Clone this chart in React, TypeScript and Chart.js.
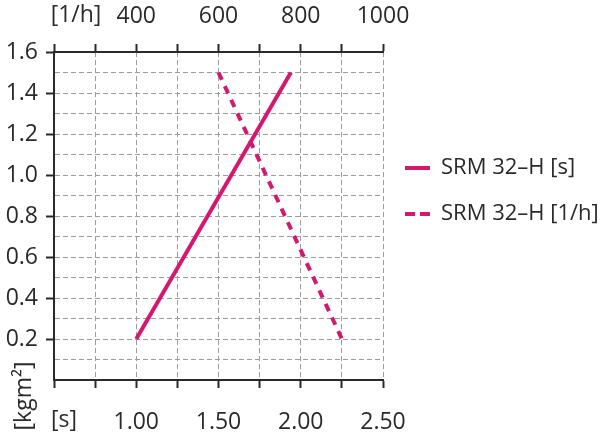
import React, { useEffect, useRef } from "react";
import { Chart, registerables } from "chart.js";

Chart.register(...registerables);

const FONT = "'Open Sans', sans-serif";
const FONT_SIZE = 23;
const TEXT_COLOR = "#2a2a2a";
const AXIS_COLOR = "#2a2a2a";
const GRID_COLOR = "#9c9c9c";
const LINE_COLOR = "#d5186f";

// Series
const seriesLabels = ["SRM 32–H [s]", "SRM 32–H [1/h]"];
const inertiaS = [0.2, 1.5];
const timeS = [1.0, 1.94];
const inertiaH = [1.5, 0.2];
const freqH = [600, 900];

// Axes
const sMin = 0.5;
const sMax = 2.5;
const sStep = 0.25;
const sTickLabels = [1.0, 1.5, 2.0, 2.5];
const hMin = 200;
const hMax = 1000;
const hStep = 100;
const hTickLabels = [400, 600, 800, 1000];
const yMin = 0;
const yMax = 1.6;
const yStep = 0.1;
const yTickLabels = [0.2, 0.4, 0.6, 0.8, 1.0, 1.2, 1.4, 1.6];

const unitTop = "[1/h]";
const unitBottom = "[s]";
const unitLeft = "[kgm²]";

const near = (v: number, arr: number[]) => arr.some((a) => Math.abs(a - v) < 1e-6);

const overlay = {
  id: "overlay",
  afterDraw(chart: any) {
    const ctx = chart.ctx as CanvasRenderingContext2D;
    ctx.save();
    ctx.fillStyle = TEXT_COLOR;
    ctx.font = `${FONT_SIZE}px ${FONT}`;
    ctx.textBaseline = "middle";
    ctx.textAlign = "center";
    ctx.fillText(unitTop, 76, 15);
    ctx.fillText(unitBottom, 64, 420);
    ctx.save();
    ctx.translate(31, 396);
    ctx.rotate(-Math.PI / 2);
    ctx.textBaseline = "alphabetic";
    ctx.fillText(unitLeft, 0, 0);
    ctx.restore();

    // legend
    const ys = [168, 214];
    ctx.font = `22px ${FONT}`;
    chart.data.datasets.forEach((ds: any, i: number) => {
      const y = ys[i];
      ctx.save();
      ctx.strokeStyle = ds.borderColor;
      ctx.lineWidth = 4;
      ctx.setLineDash(i === 0 ? [] : [10, 5]);
      ctx.beginPath();
      ctx.moveTo(405, y);
      ctx.lineTo(430, y);
      ctx.stroke();
      ctx.restore();
      ctx.textAlign = "left";
      ctx.fillText(ds.label, 441, y);
    });
    ctx.restore();
  },
};

export default function App() {
  const ref = useRef<HTMLCanvasElement>(null);
  useEffect(() => {
    if (!ref.current) return;
    const font = { family: FONT, size: FONT_SIZE };
    const chart = new Chart(ref.current, {
      type: "line",
      data: {
        datasets: [
          {
            label: seriesLabels[0],
            data: timeS.map((x, i) => ({ x, y: inertiaS[i] })),
            xAxisID: "x",
            yAxisID: "y",
            borderColor: LINE_COLOR,
            borderWidth: 4,
            pointRadius: 0,
            borderCapStyle: "butt",
          },
          {
            label: seriesLabels[1],
            data: freqH.map((x, i) => ({ x, y: inertiaH[i] })),
            xAxisID: "x2",
            yAxisID: "y",
            borderColor: LINE_COLOR,
            borderWidth: 4,
            borderDash: [8, 7],
            pointRadius: 0,
            borderCapStyle: "butt",
          },
        ],
      },
      options: {
        responsive: false,
        animation: false,
        layout: { padding: { left: 0, top: 0, right: 217, bottom: 0 } },
        plugins: { legend: { display: false }, tooltip: { enabled: false } },
        scales: {
          x: {
            type: "linear",
            position: "bottom",
            min: sMin,
            max: sMax,
            afterFit: (s: any) => {
              s.height = 56;
            },
            ticks: {
              stepSize: sStep,
              autoSkip: false,
              maxRotation: 0,
              padding: 21,
              color: TEXT_COLOR,
              font,
              callback: (v: any) => (near(Number(v), sTickLabels) ? Number(v).toFixed(2) : ""),
            },
            grid: {
              color: GRID_COLOR,
              lineWidth: 1,
              tickColor: AXIS_COLOR,
              tickWidth: 2,
              tickLength: 8,
              tickBorderDash: [],
            },
            border: { display: true, color: AXIS_COLOR, width: 2, dash: [5, 3] },
          },
          x2: {
            type: "linear",
            position: "top",
            min: hMin,
            max: hMax,
            afterFit: (s: any) => {
              s.height = 52;
            },
            ticks: {
              stepSize: hStep,
              autoSkip: false,
              maxRotation: 0,
              padding: 14,
              color: TEXT_COLOR,
              font,
              callback: (v: any) => (near(Number(v), hTickLabels) ? String(v) : ""),
            },
            grid: {
              drawOnChartArea: false,
              color: GRID_COLOR,
              tickColor: AXIS_COLOR,
              tickWidth: 2,
              tickLength: 8,
              tickBorderDash: [],
            },
            border: { display: true, color: AXIS_COLOR, width: 2 },
          },
          y: {
            type: "linear",
            position: "left",
            min: yMin,
            max: yMax,
            afterFit: (s: any) => {
              s.width = 54;
            },
            ticks: {
              stepSize: yStep,
              autoSkip: false,
              padding: 8,
              color: TEXT_COLOR,
              font,
              callback: (v: any) => (near(Number(v), yTickLabels) ? Number(v).toFixed(1) : ""),
            },
            grid: {
              color: GRID_COLOR,
              lineWidth: 1,
              tickColor: (c: any) =>
                c.tick && near(c.tick.value, yTickLabels) ? AXIS_COLOR : "rgba(0,0,0,0)",
              tickWidth: 2,
              tickLength: 8,
              tickBorderDash: [],
            },
            border: { display: true, color: AXIS_COLOR, width: 2, dash: [5, 3] },
          },
        },
      },
      plugins: [overlay],
    } as any);
    return () => chart.destroy();
  }, []);
  return (
    <div style={{ position: "fixed", left: 0, top: 0, width: 600, height: 436, background: "#fff" }}>
      <canvas ref={ref} width={600} height={436} style={{ display: "block" }} />
    </div>
  );
}
